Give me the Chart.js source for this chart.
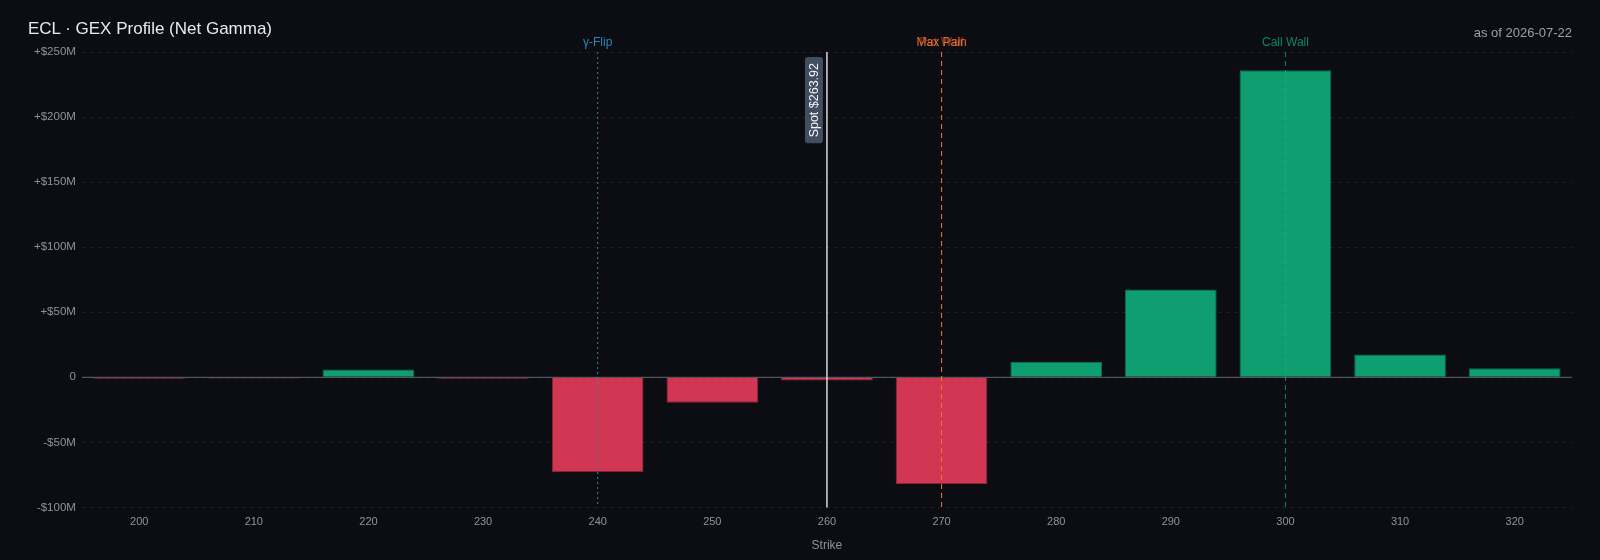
<!DOCTYPE html>
<html>
<head>
<meta charset="utf-8">
<script src="https://cdn.jsdelivr.net/npm/chart.js@4.4.1/dist/chart.umd.min.js"></script>
<style>
  html, body { margin: 0; padding: 0; background: #0b0d12; }
  #wrap { position: relative; width: 1600px; height: 560px; font-family: "Liberation Sans", Arial, sans-serif; }
  #title { position: absolute; left: 28px; top: 19px; font-size: 17px; color: #e8eaee; }
  #asof { position: absolute; right: 28px; top: 25px; font-size: 13px; color: #9aa0aa; }
  canvas { position: absolute; left: 0; top: 0; }
</style>
</head>
<body>
<div id="wrap">
  <canvas id="gex" width="1600" height="560"></canvas>
  <div id="title">ECL · GEX Profile (Net Gamma)</div>
  <div id="asof">as of 2026-07-22</div>
</div>
<script>
// strikes and net gamma exposure ($M)
const STRIKES = [200, 210, 220, 230, 240, 250, 260, 270, 280, 290, 300, 310, 320];
const NET_GEX = [-1.2, -1, 6, -1.2, -73, -19.5, -2.5, -82, 12, 67.5, 236, 17.5, 7];

// key levels
const LEVEL_NAMES = ['γ-Flip', 'Put Wall', 'Max Pain', 'Call Wall'];
const LEVEL_STRIKES = [240, 270, 270, 300];
const SPOT = 263.92;
const SPOT_STRIKE = 260;

const Y_MIN = -100, Y_MAX = 250, Y_STEP = 50;

const GREEN = 'rgba(16,185,129,0.85)';
const RED = 'rgba(244,63,94,0.85)';
const LEVEL_STYLE = {
  'γ-Flip':   { col: '#2f86b8', dash: [2, 3] },
  'Put Wall': { col: 'rgba(239,68,68,0.6)', dash: [5, 4] },
  'Max Pain': { col: 'rgba(235,130,35,0.9)', dash: [5, 4] },
  'Call Wall':{ col: 'rgba(16,185,129,0.7)', dash: [5, 4] },
};
const FONT = '"Liberation Sans", Arial, sans-serif';

const fmtM = v => v > 0 ? '+$' + v + 'M' : v < 0 ? '-$' + Math.abs(v) + 'M' : '0';

const levelsPlugin = {
  id: 'levels',
  beforeDatasetsDraw(chart) {
    // zero line
    const { ctx, chartArea: a, scales: { y } } = chart;
    const y0 = y.getPixelForValue(0);
    ctx.save();
    ctx.strokeStyle = 'rgba(160,166,176,0.45)';
    ctx.lineWidth = 1.2;
    ctx.beginPath(); ctx.moveTo(a.left, y0); ctx.lineTo(a.right, y0); ctx.stroke();
    ctx.restore();
  },
  afterDatasetsDraw(chart) {
    const { ctx, chartArea: a, scales: { x } } = chart;
    ctx.save();
    LEVEL_NAMES.forEach((name, i) => {
      const st = LEVEL_STYLE[name];
      const px = x.getPixelForValue(STRIKES.indexOf(LEVEL_STRIKES[i]));
      ctx.strokeStyle = st.col;
      ctx.lineWidth = 1;
      ctx.setLineDash(st.dash);
      ctx.beginPath(); ctx.moveTo(px, a.top); ctx.lineTo(px, a.bottom); ctx.stroke();
      ctx.setLineDash([]);
      ctx.fillStyle = st.col;
      ctx.font = '12px ' + FONT;
      ctx.textAlign = 'center';
      ctx.textBaseline = 'bottom';
      ctx.fillText(name, px, a.top - 3);
    });

    // spot line + rotated tag
    const sx = x.getPixelForValue(STRIKES.indexOf(SPOT_STRIKE));
    ctx.strokeStyle = 'rgba(235,238,242,0.9)';
    ctx.lineWidth = 1.5;
    ctx.beginPath(); ctx.moveTo(sx, a.top); ctx.lineTo(sx, a.bottom); ctx.stroke();

    const txt = 'Spot $' + SPOT.toFixed(2);
    ctx.font = '12.5px ' + FONT;
    const tw = ctx.measureText(txt).width;
    const bw = 18, bh = tw + 12;
    const bx = sx - 4 - bw, by = a.top + 5;
    ctx.fillStyle = 'rgba(71,85,105,0.9)';
    ctx.beginPath();
    ctx.roundRect(bx, by, bw, bh, 3);
    ctx.fill();
    ctx.translate(bx + bw / 2, by + bh / 2);
    ctx.rotate(-Math.PI / 2);
    ctx.fillStyle = '#f6f7f9';
    ctx.textAlign = 'center';
    ctx.textBaseline = 'middle';
    ctx.fillText(txt, 0, 1);
    ctx.restore();
  }
};

new Chart(document.getElementById('gex'), {
  type: 'bar',
  data: {
    labels: STRIKES.map(String),
    datasets: [{
      data: NET_GEX,
      backgroundColor: NET_GEX.map(v => v >= 0 ? GREEN : RED),
      borderColor: NET_GEX.map(v => v >= 0 ? 'rgba(10,120,85,0.9)' : 'rgba(150,40,60,0.9)'),
      borderWidth: 1,
      barPercentage: 1,
      categoryPercentage: 0.8,
    }]
  },
  options: {
    responsive: false,
    animation: false,
    devicePixelRatio: 1,
    layout: { padding: { top: 52, right: 28, bottom: 3, left: 28 } },
    plugins: { legend: { display: false }, tooltip: { enabled: false } },
    scales: {
      x: {
        grid: { display: false },
        border: { display: false },
        ticks: { color: '#8f949c', font: { size: 11, family: FONT }, padding: 0 },
        title: { display: true, text: 'Strike', color: '#8f949c', font: { size: 12, family: FONT }, padding: { top: 10, bottom: 4 } },
      },
      y: {
        min: Y_MIN, max: Y_MAX,
        grid: { color: 'rgba(255,255,255,0.07)', drawTicks: false },
        border: { display: false, dash: [4, 4] },
        ticks: { stepSize: Y_STEP, color: '#8f949c', font: { size: 11.5, family: FONT }, padding: 6, callback: v => fmtM(v) },
      }
    }
  },
  plugins: [levelsPlugin]
});
</script>
</body>
</html>
